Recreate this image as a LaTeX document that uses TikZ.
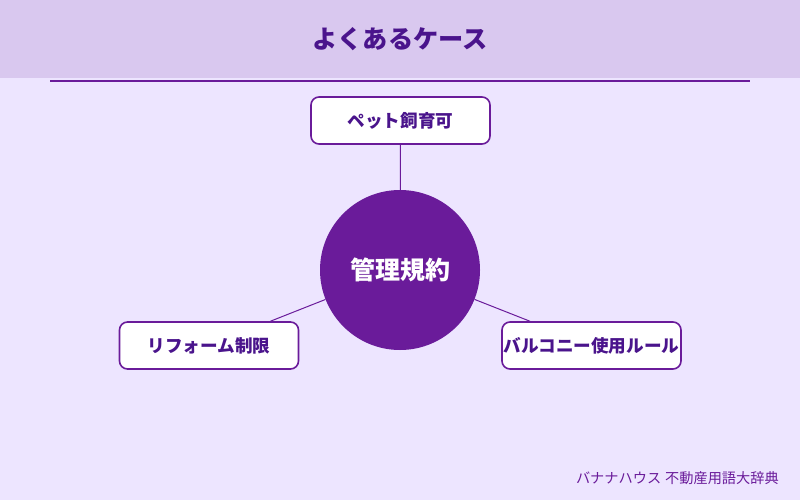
\documentclass[tikz,border=0pt]{standalone}
\usepackage{fontspec}
\setmainfont{Noto Sans CJK JP}
\definecolor{bgc}{HTML}{EDE5FF}
\definecolor{hdr}{HTML}{D9C8EF}
\definecolor{pur}{HTML}{6A1B9A}
\definecolor{dpur}{HTML}{4A148C}
\tikzset{
  itembox/.style={draw=pur, line width=1.6pt, fill=white, rounded corners=8pt,
    minimum width=179pt, minimum height=47pt, inner sep=0pt,
    font=\fontsize{17.6}{20}\selectfont\bfseries, text=dpur},
  link/.style={draw=pur, line width=1pt},
}
\begin{document}
\begin{tikzpicture}[x=1pt,y=-1pt]
\fill[bgc] (0,0) rectangle (800,500);
\useasboundingbox (0,0) rectangle (800,500);
\fill[hdr] (0,0) rectangle (800,78);
\node[font=\fontsize{25.2}{28}\selectfont\bfseries, text=dpur] (title) at (400,39) {よくあるケース};
\coordinate (la) at (50,81);
\coordinate (lb) at (750,81);
\draw[pur, line width=2pt] (la) -- (lb);
\node[circle, fill=pur, minimum size=160pt, inner sep=0pt,
  font=\fontsize{25}{28}\selectfont\bfseries, text=white] (c) at (400,270) {管理規約};
\node[itembox] (t) at (400.5,120.5) {ペット飼育可};
\node[itembox] (l) at (209,345.5) {リフォーム制限};
\node[itembox] (r) at (591.5,345.5) {バルコニー使用ルール};
\draw[link] (c) -- (t);
\draw[link] (c) -- (l);
\draw[link] (c) -- (r);
\node[font=\fontsize{14.2}{17}\selectfont, text=pur, anchor=east, inner sep=0pt] (ft) at (779,478) {バナナハウス\hspace{4pt}不動産用語大辞典};
\end{tikzpicture}
\end{document}
